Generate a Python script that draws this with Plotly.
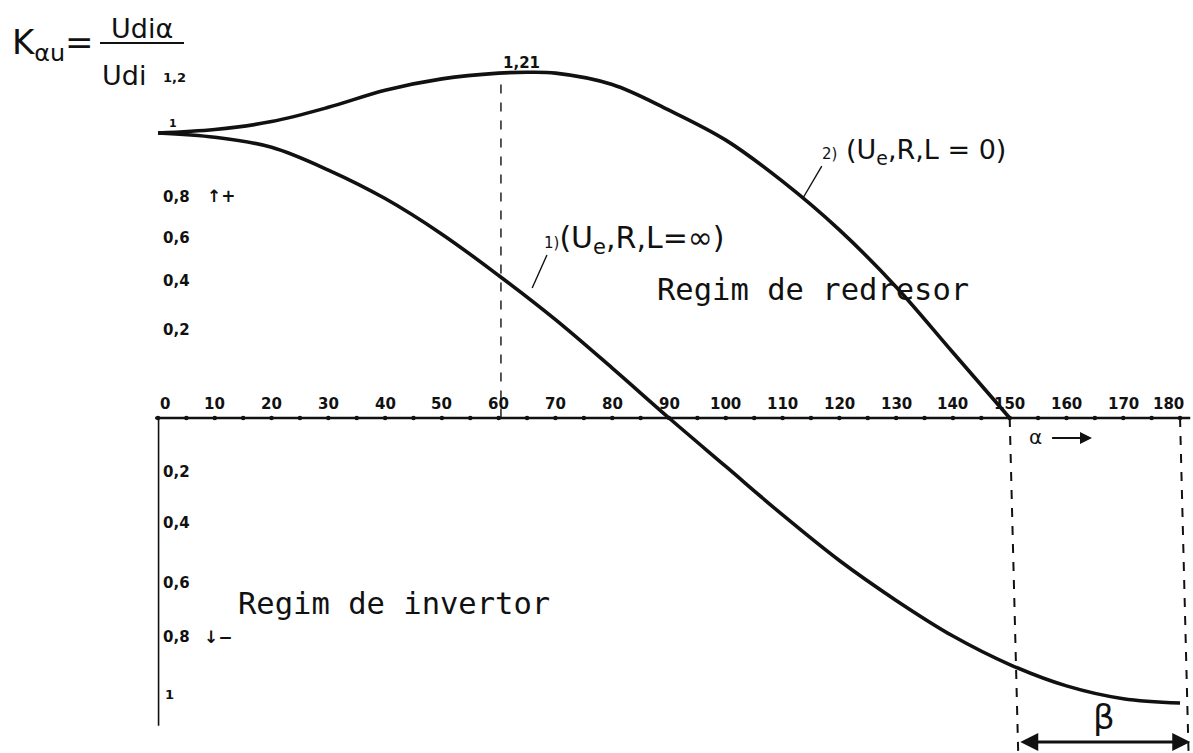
import plotly.graph_objects as go

# Firing angle alpha (degrees) and the relative mean voltage K_alpha_u = Udi_alpha / Udi
alpha_1 = [0, 10, 20, 30, 40, 50, 60, 70, 80, 90, 100, 110, 120, 130, 140, 150, 160, 170, 180]
k_1 = [1.00, 0.985, 0.95, 0.87, 0.77, 0.645, 0.50, 0.345, 0.175, 0.0, -0.17, -0.34, -0.50,
       -0.64, -0.765, -0.865, -0.94, -0.985, -1.00]

alpha_2 = [0, 10, 20, 30, 40, 50, 60, 65, 70, 80, 90, 100, 110, 120, 130, 140, 150]
k_2 = [1.00, 1.012, 1.04, 1.09, 1.15, 1.19, 1.21, 1.213, 1.21, 1.17, 1.08, 0.975, 0.83,
       0.66, 0.46, 0.23, 0.0]

x_ticks = list(range(0, 181, 10))
x_minor = list(range(0, 181, 5))
peak_alpha = 60
peak_value = 1.21

W, H = 1193, 753
X0_PX, DEG_PX = 158, 5.678
Y0_PX, UNIT_PX = 418, 285
x_range = [-X0_PX / DEG_PX, (W - X0_PX) / DEG_PX]
y_range = [(Y0_PX - H) / UNIT_PX, Y0_PX / UNIT_PX]

INK = "#111111"
HAND = "DejaVu Sans"
STENCIL = "DejaVu Sans Mono"


def px(xp):
    return xp / W


def py(yp):
    return 1 - yp / H


fig = go.Figure()

# curve 1: (Ue, R, L = inf)
fig.add_trace(go.Scatter(x=alpha_1, y=k_1, mode="lines",
                         line=dict(color=INK, width=3.6, shape="spline", smoothing=1.0),
                         hoverinfo="skip", showlegend=False))
# curve 2: (Ue, R, L = 0)
fig.add_trace(go.Scatter(x=alpha_2, y=k_2, mode="lines",
                         line=dict(color=INK, width=3.6, shape="spline", smoothing=1.0),
                         hoverinfo="skip", showlegend=False))

# small tick dots along the alpha axis
fig.add_trace(go.Scatter(x=x_minor, y=[0] * len(x_minor), mode="markers",
                         marker=dict(color=INK, size=4.5), hoverinfo="skip", showlegend=False))

shapes = []
# alpha axis
shapes.append(dict(type="line", xref="x", yref="y", x0=-0.5, x1=181.8, y0=0, y1=0,
                   line=dict(color=INK, width=2.4)))
# negative branch of the K axis
shapes.append(dict(type="line", xref="x", yref="y", x0=0.1, x1=0.1, y0=0, y1=-1.08,
                   line=dict(color=INK, width=1.6)))
# peak marker line
shapes.append(dict(type="line", xref="x", yref="y", x0=peak_alpha + 0.4, x1=peak_alpha + 0.4,
                   y0=peak_value - 0.04, y1=0, line=dict(color=INK, width=1.4, dash="dash")))
# inverter margin lines (beta)
for a in (150, 180):
    shapes.append(dict(type="line", xref="x", yref="y", x0=a, x1=a + 1.5, y0=0, y1=y_range[0],
                       line=dict(color=INK, width=2.0, dash="dash")))
# leaders for the curve labels
shapes.append(dict(type="line", xref="x", yref="y", x0=65.9, x1=68.5, y0=0.456, y1=0.572,
                   line=dict(color=INK, width=1.4)))
shapes.append(dict(type="line", xref="x", yref="y", x0=113.6, x1=116.9, y0=0.772, y1=0.884,
                   line=dict(color=INK, width=1.4)))
# fraction bar of the axis title
shapes.append(dict(type="line", xref="paper", yref="paper", x0=px(100), x1=px(184),
                   y0=py(43), y1=py(43), line=dict(color=INK, width=1.8)))

ann = []
# alpha tick labels
label_nudge = {0: 1.3, 180: -2.0}
for a in x_ticks:
    ann.append(dict(x=a + label_nudge.get(a, 0), y=0, xref="x", yref="y", text=str(a),
                    showarrow=False, yanchor="bottom", yshift=3,
                    font=dict(family=HAND, size=15, color=INK, weight="bold")))

# K tick labels
k_labels = [("1", 1.035, 1.6, 11), ("1,2", 1.196, 0.6, 13),
            ("0,8", 0.775, 0.6, 15), ("0,6", 0.63, 0.6, 15), ("0,4", 0.48, 0.6, 15),
            ("0,2", 0.31, 0.6, 15),
            ("0,2", -0.19, 0.6, 15), ("0,4", -0.37, 0.6, 15), ("0,6", -0.58, 0.6, 15),
            ("0,8", -0.77, 0.6, 15), ("1", -0.97, 0.8, 13)]
for txt, yv, xv, fs in k_labels:
    ann.append(dict(x=xv, y=yv, xref="x", yref="y", text=txt, showarrow=False,
                    xanchor="left", yanchor="middle",
                    font=dict(family=HAND, size=fs, color=INK, weight="bold")))

ann.append(dict(x=8.3, y=0.78, xref="x", yref="y", text="↑+", showarrow=False,
                xanchor="left", font=dict(family=HAND, size=17, color=INK, weight="bold")))
ann.append(dict(x=7.8, y=-0.77, xref="x", yref="y", text="↓−", showarrow=False,
                xanchor="left", font=dict(family=HAND, size=17, color=INK, weight="bold")))

# peak value
ann.append(dict(x=64.0, y=1.246, xref="x", yref="y", text="1,21", showarrow=False,
                font=dict(family=HAND, size=15, color=INK, weight="bold")))

# curve labels
ann.append(dict(x=67.6, y=0.625, xref="x", yref="y",
                text="<span style='font-size:15px'>1)</span>(U<sub>e</sub>,R,L=∞)",
                showarrow=False, xanchor="left", yanchor="middle",
                font=dict(family=HAND, size=30, color=INK)))
ann.append(dict(x=116.6, y=0.935, xref="x", yref="y",
                text="<span style='font-size:15px'>2)</span> (U<sub>e</sub>,R,L = 0)",
                showarrow=False, xanchor="left", yanchor="middle",
                font=dict(family=HAND, size=27, color=INK)))

# operating regions
ann.append(dict(x=87.6, y=0.45, xref="x", yref="y", text="Regim de redresor",
                showarrow=False, xanchor="left", yanchor="middle",
                font=dict(family=STENCIL, size=30.5, color=INK)))
ann.append(dict(x=13.7, y=-0.65, xref="x", yref="y", text="Regim de invertor",
                showarrow=False, xanchor="left", yanchor="middle",
                font=dict(family=STENCIL, size=30.5, color=INK)))

# alpha direction
ann.append(dict(x=153.0, y=-0.065, xref="x", yref="y", text="α",
                showarrow=False, xanchor="left", yanchor="middle",
                font=dict(family=HAND, size=20, color=INK)))
ann.append(dict(x=164.5, y=-0.07, ax=157.2, ay=-0.07, xref="x", yref="y", axref="x", ayref="y",
                text="", showarrow=True, arrowhead=2, arrowsize=1.2, arrowwidth=2, arrowcolor=INK))

# beta span
ann.append(dict(x=181.8, y=-1.137, ax=151.6, ay=-1.137, xref="x", yref="y", axref="x", ayref="y",
                text="", showarrow=True, arrowhead=2, startarrowhead=2, arrowside="end+start",
                arrowsize=1.2, arrowwidth=3, arrowcolor=INK))
ann.append(dict(x=166.6, y=-1.05, xref="x", yref="y", text="β", showarrow=False,
                font=dict(family=HAND, size=34, color=INK)))

# axis title K_alpha_u = Udi_alpha / Udi
ann.append(dict(x=px(10), y=py(45), xref="paper", yref="paper",
                text="K<sub>αu</sub>=", showarrow=False, xanchor="left", yanchor="middle",
                font=dict(family=HAND, size=34, color=INK)))
ann.append(dict(x=px(142), y=py(29), xref="paper", yref="paper", text="Udiα",
                showarrow=False, xanchor="center", yanchor="middle",
                font=dict(family=HAND, size=27, color=INK)))
ann.append(dict(x=px(100), y=py(75), xref="paper", yref="paper", text="Udi",
                showarrow=False, xanchor="left", yanchor="middle",
                font=dict(family=HAND, size=27, color=INK)))

fig.update_layout(
    width=W, height=H,
    margin=dict(l=0, r=0, t=0, b=0),
    paper_bgcolor="white", plot_bgcolor="white",
    xaxis=dict(range=x_range, visible=False, fixedrange=True),
    yaxis=dict(range=y_range, visible=False, fixedrange=True),
    shapes=shapes, annotations=ann,
)

fig.write_html("out.html")
